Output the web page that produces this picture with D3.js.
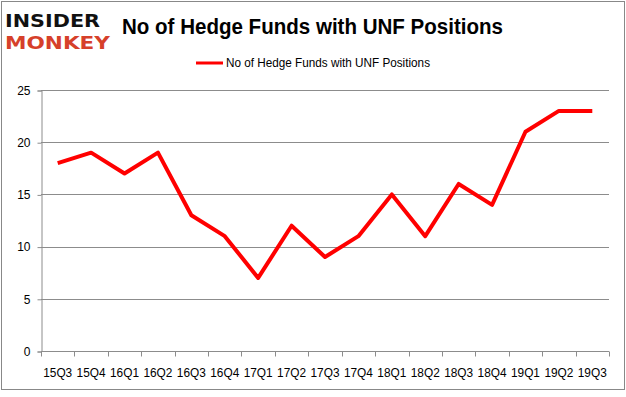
<!DOCTYPE html>
<html>
<head>
<meta charset="utf-8">
<script src="https://cdn.jsdelivr.net/npm/d3@7"></script>
<style>
  body { margin: 0; background: #fff; }
  svg { display: block; }
</style>
</head>
<body>
<svg></svg>
<script>
const width = 626;
const height = 397;

// Chart data
const quarters = ["15Q3", "15Q4", "16Q1", "16Q2", "16Q3", "16Q4", "17Q1", "17Q2", "17Q3",
    "17Q4", "18Q1", "18Q2", "18Q3", "18Q4", "19Q1", "19Q2", "19Q3"];
const fundCounts = [18, 19, 17, 19, 13, 11, 7, 12, 9, 11, 15, 11, 16, 14, 21, 23, 23];
const yTicks = [0, 5, 10, 15, 20, 25];
const seriesName = "No of Hedge Funds with UNF Positions";

const svg = d3.select("svg")
    .attr("width", width)
    .attr("height", height);

const font = "'Liberation Sans', Arial, sans-serif";

// Outer frame
svg.append("rect")
    .attr("x", 1.5).attr("y", 1.5)
    .attr("width", 623).attr("height", 388)
    .attr("fill", "#fff")
    .attr("stroke", "#888")
    .attr("stroke-width", 1);

// Plot area
const plot = { left: 41, right: 609, top: 90, bottom: 351 };

const x = d3.scaleBand()
    .domain(quarters)
    .range([plot.left, plot.right])
    .padding(0);

const y = d3.scaleLinear()
    .domain([0, 25])
    .range([plot.bottom, plot.top]);

// Horizontal gridlines
svg.append("g")
    .selectAll("line")
    .data(yTicks.filter(d => d > 0))
    .join("line")
    .attr("x1", plot.left).attr("x2", plot.right)
    .attr("y1", d => Math.round(y(d)) + 0.5)
    .attr("y2", d => Math.round(y(d)) + 0.5)
    .attr("stroke", "#8c8c8c")
    .attr("stroke-width", 1);

// Y axis
const yAxis = svg.append("g")
    .attr("transform", `translate(${plot.left + 0.5},0.5)`)
    .call(d3.axisLeft(y).tickValues(yTicks).tickSize(4).tickPadding(7));
yAxis.select(".domain").attr("stroke", "#8c8c8c");
yAxis.selectAll(".tick line").attr("stroke", "#8c8c8c");
yAxis.selectAll("text")
    .attr("font-family", font)
    .attr("font-size", "12px")
    .attr("fill", "#000");

// X axis, ticks at category boundaries
const xAxis = svg.append("g")
    .attr("transform", `translate(0,${Math.round(plot.bottom) + 0.5})`);
xAxis.append("line")
    .attr("x1", plot.left).attr("x2", plot.right)
    .attr("stroke", "#8c8c8c");
xAxis.selectAll(".tk")
    .data(quarters.concat(["end"]))
    .join("line")
    .attr("class", "tk")
    .attr("x1", (d, i) => Math.round(plot.left + i * x.bandwidth()) + 0.5)
    .attr("x2", (d, i) => Math.round(plot.left + i * x.bandwidth()) + 0.5)
    .attr("y1", 0).attr("y2", 5)
    .attr("stroke", "#8c8c8c");
xAxis.selectAll("text")
    .data(quarters)
    .join("text")
    .attr("x", d => x(d) + x.bandwidth() / 2)
    .attr("y", 25)
    .attr("text-anchor", "middle")
    .attr("font-family", font)
    .attr("font-size", "12px")
    .attr("textLength", 29)
    .attr("lengthAdjust", "spacingAndGlyphs")
    .attr("fill", "#000")
    .text(d => d);

// Series line
const line = d3.line()
    .x((d, i) => x(quarters[i]) + x.bandwidth() / 2)
    .y(d => y(d));

svg.append("path")
    .datum(fundCounts)
    .attr("d", line)
    .attr("fill", "none")
    .attr("stroke", "#ff0000")
    .attr("stroke-width", 4)
    .attr("stroke-linejoin", "round");

// Title
svg.append("text")
    .attr("x", 122)
    .attr("y", 34)
    .attr("font-family", font)
    .attr("font-size", "22px")
    .attr("font-weight", "bold")
    .attr("textLength", 381)
    .attr("lengthAdjust", "spacingAndGlyphs")
    .attr("fill", "#000")
    .text(seriesName);

// Legend
svg.append("line")
    .attr("x1", 196).attr("x2", 223)
    .attr("y1", 63).attr("y2", 63)
    .attr("stroke", "#ff0000")
    .attr("stroke-width", 3);
svg.append("text")
    .attr("x", 226)
    .attr("y", 67)
    .attr("font-family", font)
    .attr("font-size", "12px")
    .attr("textLength", 204)
    .attr("lengthAdjust", "spacingAndGlyphs")
    .attr("fill", "#000")
    .text(seriesName);

// Logo
svg.append("text")
    .attr("x", 5).attr("y", 27)
    .attr("font-family", "'DejaVu Sans', sans-serif")
    .attr("font-size", "18px")
    .attr("font-weight", "bold")
    .attr("textLength", 95)
    .attr("lengthAdjust", "spacingAndGlyphs")
    .attr("fill", "#111")
    .text("INSIDER");
svg.append("text")
    .attr("x", 5).attr("y", 49)
    .attr("font-family", "'DejaVu Sans', sans-serif")
    .attr("font-size", "18px")
    .attr("font-weight", "bold")
    .attr("textLength", 105)
    .attr("lengthAdjust", "spacingAndGlyphs")
    .attr("fill", "#d6402a")
    .text("MONKEY");
</script>
</body>
</html>
